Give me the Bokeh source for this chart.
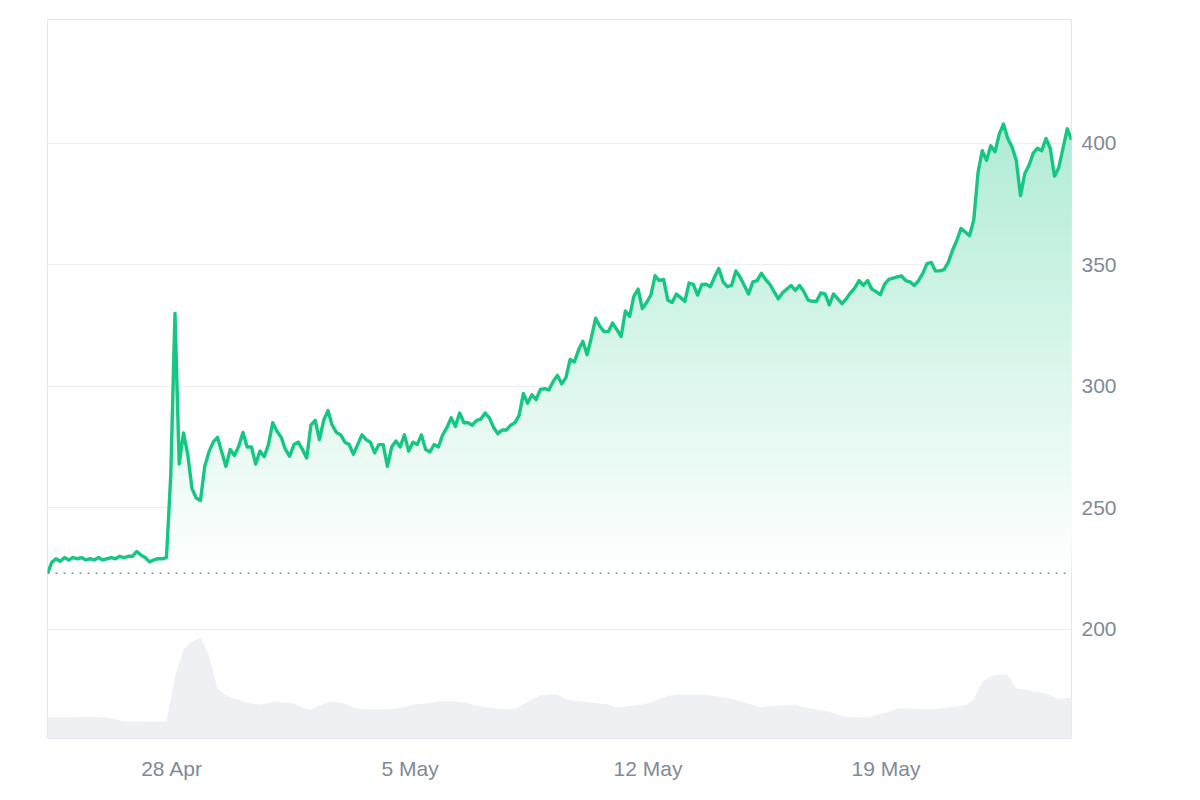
import numpy as np
import pandas as pd
from bokeh.plotting import figure
from bokeh.models import Range1d, FixedTicker, Span
from bokeh.embed import file_html
from bokeh.resources import INLINE

# ---------------- data ----------------
start_time = "2025-04-24 08:00"
price_step = "3h"
prices = [
    223.0, 227.5, 229.0, 228.0, 229.5, 228.5, 229.5, 229.0, 229.5, 228.5,
    229.0, 228.5, 229.5, 228.5, 229.0, 229.5, 229.0, 230.0, 229.5, 230.0,
    230.0, 232.0, 230.5, 229.5, 227.7, 228.5, 229.0, 229.0, 229.5, 263.0,
    330.0, 268.0, 280.8, 272.0, 258.0, 254.0, 253.0, 267.0, 273.0, 277.0,
    279.0, 273.0, 267.0, 274.0, 271.5, 275.3, 281.0, 275.0, 275.0, 268.0,
    273.3, 271.0, 276.0, 285.0, 281.5, 279.0, 274.0, 271.2, 276.0, 277.0,
    274.0, 270.5, 284.0, 286.0, 278.0, 286.0, 290.0, 284.0, 281.0, 280.0,
    277.0, 276.0, 272.0, 276.0, 280.0, 278.0, 277.0, 272.6, 276.0, 276.0,
    267.0, 275.0, 277.5, 275.0, 280.0, 273.3, 277.0, 276.0, 280.0, 274.0,
    273.0, 276.0, 275.0, 280.0, 283.0, 287.0, 283.5, 289.0, 285.0, 285.0,
    284.0, 286.0, 286.5, 289.0, 287.0, 283.0, 280.5, 282.0, 282.0, 284.0,
    285.0, 288.0, 297.0, 293.0, 296.5, 294.5, 298.7, 299.0, 298.5, 302.0,
    304.5, 301.0, 303.5, 311.0, 310.0, 315.0, 318.5, 313.0, 320.0, 328.0,
    324.7, 322.5, 322.5, 326.0, 323.3, 320.5, 331.0, 328.8, 337.0, 340.0,
    332.0, 334.5, 337.5, 345.5, 343.5, 344.0, 335.5, 334.5, 338.0, 336.5,
    335.0, 342.5, 342.0, 337.5, 341.9, 342.0, 341.0, 345.0, 348.5, 343.0,
    341.0, 341.5, 347.5, 345.0, 341.5, 338.0, 343.0, 343.5, 346.5, 344.0,
    342.0, 339.0, 336.0, 338.5, 340.0, 341.5, 339.5, 341.5, 339.0, 335.5,
    335.0, 335.0, 338.4, 338.0, 333.5, 338.0, 336.0, 334.0, 336.0, 338.5,
    340.5, 343.5, 341.5, 343.5, 340.0, 339.0, 337.7, 342.0, 344.0, 344.5,
    345.0, 345.5, 343.5, 343.0, 341.5, 343.5, 346.5, 350.5, 351.0, 347.5,
    347.5, 348.0, 351.0, 356.0, 360.0, 365.0, 363.5, 362.0, 368.5, 388.0,
    397.0, 393.0, 399.0, 396.5, 403.8, 408.0, 402.0, 398.5, 393.0, 378.5,
    387.5, 391.0, 396.0, 398.0, 397.0, 402.0, 398.0, 386.5, 390.0, 398.0,
    406.0, 401.5,
]

volume_step = "6h"
volumes_musd = [
    21, 21, 21, 21, 21.5, 21.5, 21, 21, 19, 17,
    17, 17, 16.7, 16.7, 17, 62, 89, 97, 101, 83,
    50, 43, 40, 37, 35, 34, 35.5, 37, 36, 35,
    31, 29, 33, 36, 37, 35, 31, 29, 29, 29,
    29, 30, 31, 34, 34.5, 35.5, 37, 37, 37, 36,
    34, 32, 31, 29.5, 29, 29.5, 34, 39, 43, 44,
    44, 39, 38, 37, 36, 35, 34, 31, 32, 33,
    34, 36, 40, 42.5, 44, 44, 44, 44, 43, 42,
    40.5, 38.5, 36, 33.5, 31, 32.5, 33, 33, 34, 31,
    30, 28, 26.5, 24, 21.5, 21, 21, 22, 24.5, 27,
    30, 30.5, 29.5, 29, 29, 30, 31, 32, 33.5, 39,
    57, 62, 64, 64, 50, 49, 47.5, 46, 43, 39.5,
    40.5, 41,
]

tick_dates = ["2025-04-28", "2025-05-05", "2025-05-12", "2025-05-19"]
tick_labels = ["28 Apr", "5 May", "12 May", "19 May"]
y_ticks = [200, 250, 300, 350, 400]


def to_ms(idx):
    return (idx - pd.Timestamp("1970-01-01")) // pd.Timedelta("1ms")


t_price = pd.date_range(start_time, periods=len(prices), freq=price_step)
t_vol = pd.date_range(start_time, periods=len(volumes_musd), freq=volume_step)
x = np.asarray(to_ms(t_price), dtype=float)
xv = np.asarray(to_ms(t_vol), dtype=float)
pr = np.asarray(prices, dtype=float)
vol = np.asarray(volumes_musd, dtype=float)
tick_ms = [int(to_ms(pd.DatetimeIndex([d]))[0]) for d in tick_dates]

# ---------------- styles ----------------
GREEN_RGB = (22, 199, 132)
GREEN = "#16c784"
LABEL_COLOR = "#818a99"
FONT = "Liberation Sans"

p = figure(
    width=1192, height=798,
    x_axis_type="datetime", y_axis_location="right",
    x_range=Range1d(x[0], x[-1]), y_range=Range1d(155, 451),
    output_backend="svg", toolbar_location=None,
    min_border_left=47, min_border_right=121,
    min_border_top=19, min_border_bottom=60,
)
p.background_fill_color = "white"
p.border_fill_color = "white"
p.outline_line_color = "#e4e6ea"
p.outline_line_width = 1

p.extra_y_ranges = {"vol": Range1d(0, 719)}

# volume area
p.varea(x=xv, y1=0, y2=vol, y_range_name="vol", fill_color="#eef0f4", fill_alpha=1.0)

# gradient fill above baseline: opaque bands, each painted over the previous
base = pr[0]
top = pr.max()
N = 60
AMAX = 0.34
for k in range(N):
    lo = base + (top - base) * k / N
    frac = AMAX * (k + 0.5) / N
    col = "#%02x%02x%02x" % tuple(int(round(255 * (1 - frac) + c * frac)) for c in GREEN_RGB)
    y1 = np.minimum(pr, lo)
    p.varea(x=x, y1=y1, y2=pr, fill_color=col, fill_alpha=1.0)

# baseline dotted
p.add_layout(Span(location=base, dimension="width", line_color="#8e8e8e",
                  line_dash="2 6", line_width=1.5))

# price line
p.line(x, pr, line_color=GREEN, line_width=3.4, line_join="round")

# grid
p.xgrid.visible = False
p.ygrid.ticker = FixedTicker(ticks=y_ticks)
p.ygrid.grid_line_color = "#eceef1"
p.ygrid.grid_line_width = 1

# axes
for ax in (p.xaxis, p.yaxis):
    ax.axis_line_color = None
    ax.major_tick_line_color = None
    ax.minor_tick_line_color = None
    ax.major_tick_out = 0
    ax.major_tick_in = 0
    ax.major_label_text_font = FONT
    ax.major_label_text_font_size = "21px"
    ax.major_label_text_color = LABEL_COLOR

p.yaxis.ticker = FixedTicker(ticks=y_ticks)
p.yaxis.major_label_standoff = 10
p.xaxis.ticker = FixedTicker(ticks=tick_ms)
p.xaxis.major_label_overrides = {ms: lab for ms, lab in zip(tick_ms, tick_labels)}
p.xaxis.major_label_standoff = 18

open("out.html", "w").write(file_html(p, INLINE))
